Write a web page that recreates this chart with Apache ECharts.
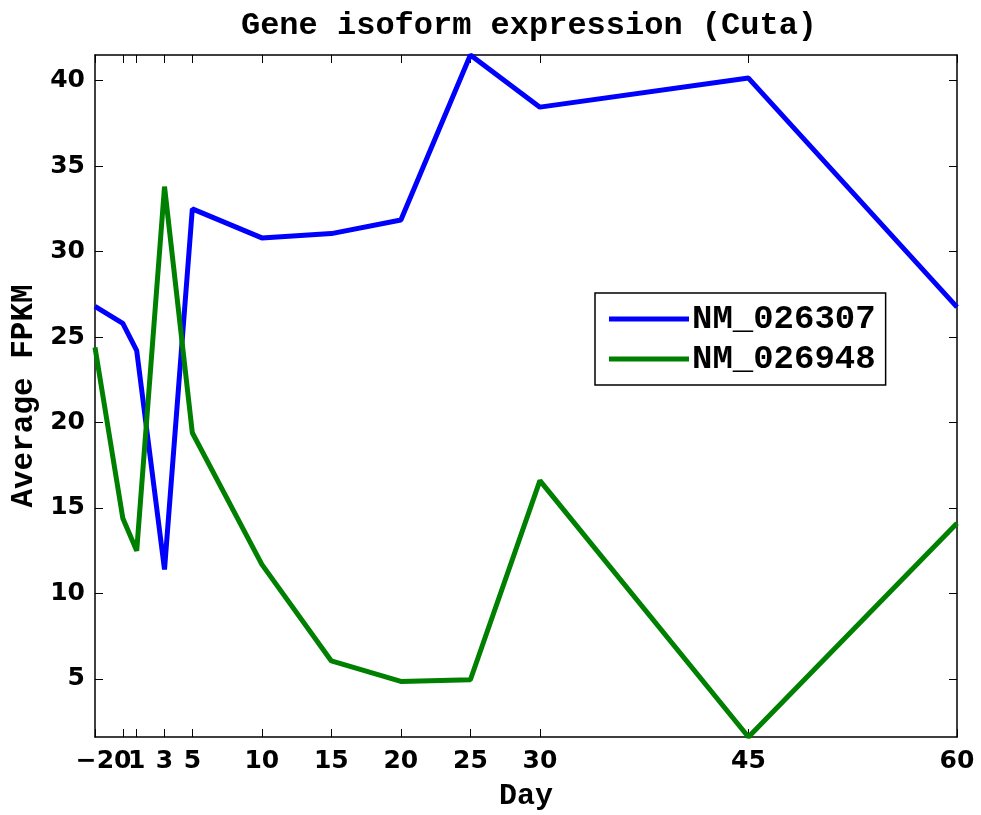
<!DOCTYPE html>
<html>
<head>
<meta charset="utf-8">
<style>
    html, body { margin: 0; padding: 0; background: #fff; }
    #chart { width: 981px; height: 815px; }
</style>
<script src="https://cdn.jsdelivr.net/npm/echarts@6/dist/echarts.min.js"></script>
</head>
<body>
<div id="chart"></div>
<script>
    // days sampled
    var days = [-2, 0, 1, 3, 5, 10, 15, 20, 25, 30, 45, 60];
    var nm026307 = [26.8, 25.8, 24.2, 11.4, 32.5, 30.8, 31.05, 31.85, 41.5, 38.45, 40.15, 26.75];
    var nm026948 = [24.4, 14.4, 12.5, 33.8, 19.4, 11.7, 6.05, 4.85, 4.95, 16.6, 1.6, 14.1];
    var yTicks = [5, 10, 15, 20, 25, 30, 35, 40];

    var monoFont = '"Liberation Mono", "Courier New", monospace';
    var tickFont = '"DejaVu Sans", sans-serif';

    function pairs(xs, ys) {
        var out = [];
        for (var i = 0; i < xs.length; i++) out.push([xs[i], ys[i]]);
        return out;
    }

    var chart = echarts.init(document.getElementById('chart'));
    var axisLine = { show: true, onZero: false, lineStyle: { color: '#000', width: 1.5 } };
    var tick = { show: true, inside: true, length: 8, lineStyle: { color: '#000', width: 1 } };

    var option = {
        animation: false,
        title: {
            text: 'Gene isoform expression (Cuta)',
            left: 524, top: 5, textAlign: 'center',
            textStyle: { fontFamily: monoFont, fontWeight: 'bold', fontSize: 32, color: '#000' }
        },
        legend: {
            orient: 'vertical',
            left: 595, top: 293,
            padding: [9, 10, 9, 14],
            icon: 'rect',
            itemWidth: 80, itemHeight: 5, itemGap: 6,
            borderColor: '#000', borderWidth: 1.5,
            textStyle: { fontFamily: monoFont, fontWeight: 'bold', fontSize: 34, color: '#000', padding: [0, 0, 0, -2] },
            data: ['NM_026307', 'NM_026948']
        },
        grid: { left: 95, right: 24, top: 55, bottom: 78, outerBoundsMode: 'none', containLabel: false },
        xAxis: [{
            type: 'value', min: -2, max: 60,
            name: 'Day', nameLocation: 'middle', nameGap: 44,
            nameTextStyle: { fontFamily: monoFont, fontWeight: 'bold', fontSize: 30, color: '#000' },
            axisLine: axisLine,
            axisTick: Object.assign({ customValues: days }, tick),
            axisLabel: { customValues: days, margin: 12, fontFamily: tickFont, fontWeight: 'bold', fontSize: 25, color: '#000',
                formatter: function (v) { return String(v).replace('-', '\u2212'); } },
            splitLine: { show: false }
        }, {
            type: 'value', min: -2, max: 60, position: 'top',
            axisLine: axisLine,
            axisTick: Object.assign({ customValues: days }, tick),
            axisLabel: { show: false },
            splitLine: { show: false }
        }],
        yAxis: [{
            type: 'value', min: 1.6, max: 41.5,
            name: 'Average FPKM', nameLocation: 'middle', nameGap: 55,
            nameTextStyle: { fontFamily: monoFont, fontWeight: 'bold', fontSize: 31, color: '#000' },
            axisLine: axisLine,
            axisTick: Object.assign({ customValues: yTicks }, tick),
            axisLabel: { customValues: yTicks, margin: 10, fontFamily: tickFont, fontWeight: 'bold', fontSize: 25, color: '#000' },
            splitLine: { show: false }
        }, {
            type: 'value', min: 1.6, max: 41.5, position: 'right',
            axisLine: axisLine,
            axisTick: Object.assign({ customValues: yTicks }, tick),
            axisLabel: { show: false },
            splitLine: { show: false }
        }],
        series: [{
            name: 'NM_026307', type: 'line', symbol: 'none',
            color: '#0000ff',
            lineStyle: { color: '#0000ff', width: 5 },
            data: pairs(days, nm026307)
        }, {
            name: 'NM_026948', type: 'line', symbol: 'none',
            color: '#008000',
            lineStyle: { color: '#008000', width: 5 },
            data: pairs(days, nm026948)
        }]
    };
    chart.setOption(option);
</script>
</body>
</html>
